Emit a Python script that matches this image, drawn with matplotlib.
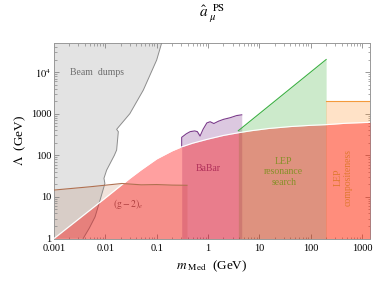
import numpy as np
import matplotlib
import matplotlib.pyplot as plt

# Times-like fonts, as in the original
matplotlib.rcParams['mathtext.fontset'] = 'stix'
matplotlib.rcParams['font.family'] = 'Liberation Serif'

# Axis ticks
x_ticks = [0.001, 0.01, 0.1, 1, 10, 100, 1000]
x_labels = ['0.001', '0.01', '0.1', '1', '10', '100', '1000']
y_ticks = [1, 10, 100, 1000, 1e4]
y_labels = ['1', '10', '100', '1000', '$10^4$']

# Unitarity-type bound (pink)
pink_m = [0.001, 0.01, 0.03, 0.05, 0.1, 0.2, 0.3, 0.5, 1, 2, 4, 7, 15, 40, 100, 200, 500, 1430]
pink_L = [1, 9.4, 28, 45, 82, 128, 158, 195, 245, 300, 350, 390, 440, 490, 525, 545, 590, 620]

# Beam dumps boundary
beam_m = [0.0037, 0.0049, 0.0063, 0.0079, 0.0098, 0.0094, 0.0106, 0.0150, 0.0166,
          0.0179, 0.0166, 0.0179, 0.030, 0.055, 0.1, 0.125]
beam_L = [1, 1.8, 3.3, 8.4, 21, 28, 44, 100, 134, 370, 420, 470, 1000, 3700, 19500, 5e4]

# (g-2)_e
g2_m = [0.001, 0.005, 0.021, 0.05, 0.1, 0.2, 0.39]
g2_L = [14.6, 17.5, 21, 19.5, 19.8, 19.2, 19]

# BaBar
babar_m = [0.307, 0.38, 0.45, 0.55, 0.62, 0.70, 0.80, 0.95, 1.1, 1.3, 1.6, 2.0, 2.7, 3.6, 4.54]
babar_L = [270, 330, 370, 385, 370, 290, 420, 600, 640, 580, 660, 730, 800, 900, 940]

# LEP resonance search
lepres_m = [3.9, 200]
lepres_L = [390, 2.0e4]

# LEP compositeness
lepcomp_m = [200, 1430]
lepcomp_L = [2000, 2000]

xmin, xmax = 0.001, 1430
ymin, ymax = 1, 5e4

fig = plt.figure(figsize=(3.74, 2.81), dpi=100)
ax = fig.add_axes([54/374, 42.5/281, 316/374, 195.5/281])
ax.set_xscale('log')
ax.set_yscale('log')

# (g-2)_e
ax.fill_between(g2_m, ymin, g2_L, color=(203/255, 147/255, 115/255), alpha=0.25, lw=0, zorder=1)

# Beam dumps
bx = [xmin] + beam_m + [xmin]
by = [ymin] + beam_L + [ymax]
ax.fill(bx, by, color='0.5', alpha=0.22, lw=0, zorder=2)
ax.plot(beam_m, beam_L, color='#8c8c8c', lw=0.7, zorder=3)

# BaBar
ax.fill_between(babar_m, ymin, babar_L, color=(119/255, 39/255, 135/255), alpha=0.25, lw=0, zorder=2)
babar_low = 10 ** np.interp(np.log10(babar_m[0]), np.log10(pink_m), np.log10(pink_L))
ax.plot([babar_m[0]] + babar_m, [babar_low] + babar_L, color='#7b3b8b', lw=0.8, zorder=3)

# LEP resonance search
ax.fill_between(lepres_m, ymin, lepres_L, color=(55/255, 175/255, 51/255), alpha=0.25, lw=0, zorder=2)
ax.plot(lepres_m, lepres_L, color='#3cb043', lw=0.8, zorder=3)

# LEP compositeness
ax.fill_between(lepcomp_m, ymin, lepcomp_L, color=(1.0, 143/255, 35/255), alpha=0.25, lw=0, zorder=2)
ax.plot(lepcomp_m, lepcomp_L, color='#f39a3c', lw=0.8, zorder=3)

# pink bound on top
ax.fill_between(pink_m, ymin, pink_L, color='red', alpha=0.373, lw=0, zorder=4)
ax.plot(pink_m, pink_L, color='white', lw=0.8, zorder=5)
ax.plot(g2_m, g2_L, color='#b07050', lw=0.8, zorder=5)

# Labels
ax.text(0.0069, 1e4, 'Beam  dumps', color='#6e6e6e', fontsize=7, ha='center', va='center', zorder=6)
ax.text(1.0, 47, 'BaBar', color='#b0305a', fontsize=7, ha='center', va='center', zorder=6)
ax.text(30, 40, 'LEP\nresonance\nsearch', color='#869028', fontsize=7, ha='center', va='center',
        linespacing=1.2, zorder=6)
ax.text(430, 30, 'LEP\ncompositeness', color='#e07830', fontsize=7, ha='center', va='center',
        rotation=90, linespacing=1.2, zorder=6)
ax.text(0.028, 6.8, r'$(\mathrm{g}-2)_e$', color='#b04040', fontsize=7, ha='center', va='center', zorder=6)

ax.set_xlim(xmin, xmax)
ax.set_ylim(ymin, ymax)
ax.set_xticks(x_ticks)
ax.set_xticklabels(x_labels)
ax.set_yticks(y_ticks)
ax.set_yticklabels(y_labels)
ax.tick_params(which='both', direction='in', top=True, right=True, color='#888888',
               labelcolor='black', labelsize=7.5, pad=2)
ax.tick_params(axis='x', which='major', pad=4)
ax.tick_params(which='major', length=3.5, width=0.6)
ax.tick_params(which='minor', length=1.8, width=0.5)
for s in ax.spines.values():
    s.set_color('#999999')
    s.set_linewidth(0.7)

ax.set_xlabel(r'$m_{\ \mathrm{Med}}$  (GeV)', fontsize=9.5, labelpad=4)
ax.set_ylabel(r'$\Lambda$  (GeV)', fontsize=9.5, labelpad=2)
fig.text(212/374, 1 - 14/281, r'$\hat{a}_{\ \mu}^{\ \ \mathrm{PS}}$', fontsize=11, ha='center', va='center')

fig.savefig('out.png', dpi=100)
